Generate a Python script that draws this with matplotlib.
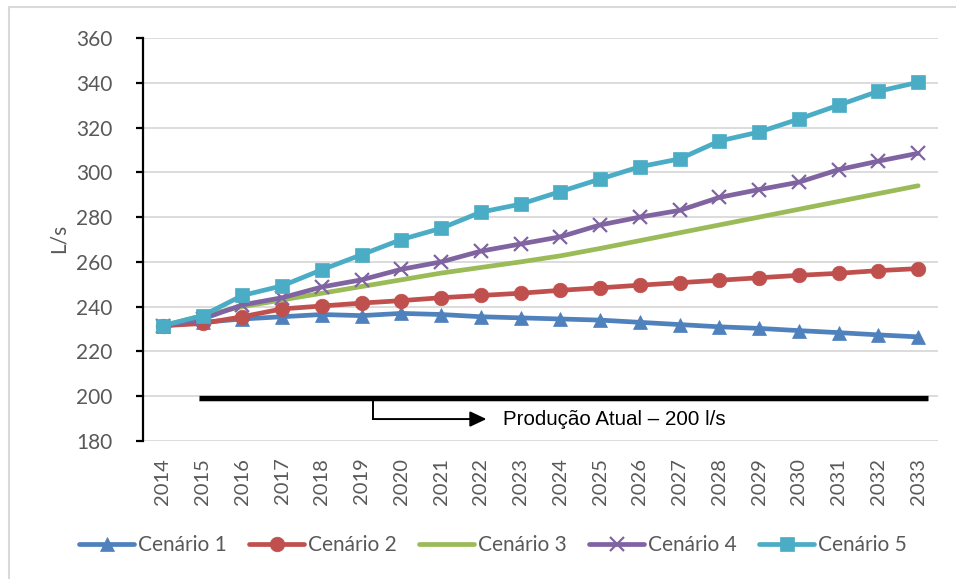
import matplotlib
matplotlib.use("Agg")
import matplotlib.pyplot as plt
from matplotlib.patches import Rectangle

plt.rcParams["font.family"] = ["Lato", "DejaVu Sans"]

years = list(range(2014, 2034))

cenario_1 = [231.5, 233.0, 234.5, 235.5, 236.5, 236.0, 237.0, 236.5, 235.5, 235.0,
             234.5, 234.0, 233.0, 232.0, 231.0, 230.3, 229.3, 228.4, 227.4, 226.5]
cenario_2 = [231.5, 232.5, 235.5, 239.0, 240.3, 241.6, 242.7, 244.0, 245.0, 246.0,
             247.3, 248.4, 249.6, 250.7, 251.8, 252.9, 254.0, 254.9, 256.1, 257.0]
cenario_3 = [231.5, 236.0, 240.0, 243.0, 246.0, 249.0, 252.0, 255.0, 257.5, 260.0,
             262.7, 266.0, 269.5, 273.0, 276.5, 280.0, 283.5, 287.0, 290.5, 294.0]
cenario_4 = [231.5, 234.5, 240.8, 244.0, 248.8, 252.0, 256.7, 260.0, 264.8, 268.0,
             271.2, 276.5, 280.0, 283.0, 288.8, 292.3, 295.6, 301.2, 305.0, 308.5]
cenario_5 = [231.5, 236.0, 245.0, 249.3, 256.5, 263.2, 270.0, 275.0, 282.2, 285.8,
             291.4, 297.0, 302.5, 306.0, 314.0, 318.0, 323.8, 330.0, 336.2, 340.2]

producao_atual = 200

series = [
    ("Cenário 1", cenario_1, "#4F81BD", "^", 9.5),
    ("Cenário 2", cenario_2, "#C0504D", "o", 10.5),
    ("Cenário 3", cenario_3, "#9BBB59", None, 0),
    ("Cenário 4", cenario_4, "#8064A2", "x", 9.5),
    ("Cenário 5", cenario_5, "#4BACC6", "s", 10),
]

fig = plt.figure(figsize=(9.56, 5.79), dpi=100)
ax = fig.add_axes([143 / 956, 1 - 441 / 579, 795 / 956, 403 / 579])

# chart area frame
fig.patches.append(Rectangle((9 / 956, -0.2), 1.2, 1.2 - 7 / 579,
                             transform=fig.transFigure, fill=False,
                             edgecolor="#d9d9d9", lw=1.5))

for label, values, color, marker, ms in series:
    ax.plot(years, values, color=color, lw=3.4, marker=marker, markersize=ms,
            markeredgewidth=1.6 if marker == "x" else 0.5, label=label,
            solid_capstyle="round", zorder=3)

# current production line with callout
ax.plot([2014.9, 2033.25], [producao_atual - 1.9, producao_atual - 1.9],
        color="#bbbbbb", lw=3, alpha=0.5, solid_capstyle="butt", zorder=4)
ax.plot([2014.9, 2033.25], [producao_atual - 0.65, producao_atual - 0.65],
        color="black", lw=3.8, solid_capstyle="butt", zorder=5)
ax.plot([2019.28, 2019.28], [198.4, 189.8], color="black", lw=1.4, zorder=5)
ax.annotate("", xy=(2022.14, 189.8), xytext=(2019.28, 189.8),
            arrowprops=dict(arrowstyle="-|>,head_length=1.0,head_width=0.47",
                            color="black", lw=1.4, shrinkA=0, shrinkB=0,
                            mutation_scale=10), zorder=5)
ax.text(2022.55, 189.8, f"Produção Atual – {producao_atual} l/s", ha="left",
        va="center", fontsize=14.8, family=["Liberation Sans", "DejaVu Sans"],
        color="black", zorder=5)

ax.set_xlim(2013.5, 2033.5)
ax.set_ylim(180, 360)
ax.set_yticks(range(180, 361, 20))
ax.set_xticks(years)
ax.set_xticklabels([str(y) for y in years], rotation=90)

ax.grid(axis="y", color="#d9d9d9", lw=1.3)
ax.set_axisbelow(True)
for side in ["top", "right", "bottom"]:
    ax.spines[side].set_visible(False)
ax.spines["left"].set_color("black")
ax.spines["left"].set_linewidth(1.6)

ax.tick_params(axis="y", length=5, width=1.6, color="black", pad=17,
               labelsize=15, labelcolor="#595959")
ax.tick_params(axis="x", length=0, pad=12, labelsize=14.5, labelcolor="#595959")

fig.text(59 / 956, 1 - 238 / 579, "L/s", rotation=90, ha="center", va="center",
         fontsize=15, color="#595959")

fig.legend(loc="center", bbox_to_anchor=(493 / 956, 1 - 545 / 579), ncol=5,
           frameon=False, fontsize=15, labelcolor="#595959", handlelength=2.6,
           handletextpad=0.2, columnspacing=1.1)

fig.savefig("out.png", dpi=100)
plt.close()
